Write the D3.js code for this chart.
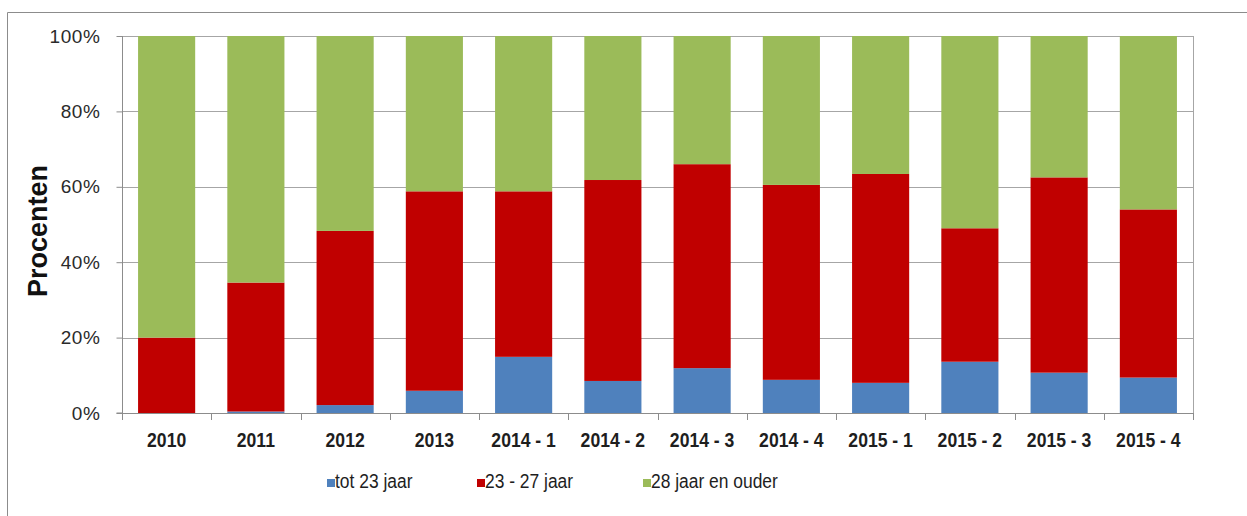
<!DOCTYPE html>
<html>
<head>
<meta charset="utf-8">
<script src="https://cdn.jsdelivr.net/npm/d3@7/dist/d3.min.js"></script>
<style>
    body { margin: 0; background: #fff; }
    svg { display: block; }
</style>
</head>
<body>
<div id="draw"></div>
<script>
//数据
var categories = ["2010", "2011", "2012", "2013", "2014 - 1", "2014 - 2", "2014 - 3", "2014 - 4",
    "2015 - 1", "2015 - 2", "2015 - 3", "2015 - 4"];
var tot23 = [0, 0.4, 2.1, 5.9, 14.9, 8.5, 11.9, 8.8, 8.0, 13.6, 10.7, 9.4];
var jaar23_27 = [20.0, 34.2, 46.2, 52.9, 43.9, 53.3, 54.1, 51.7, 55.4, 35.4, 51.8, 44.6];
var jaar28 = [80.0, 65.4, 51.7, 41.2, 41.2, 38.2, 34.0, 39.5, 36.6, 51.0, 37.5, 46.0];
var seriesNames = ["tot 23 jaar", "23 - 27 jaar", "28 jaar en ouder"];
var seriesColors = ["#4f81bd", "#c00000", "#9bbb59"];
var yTicks = [0, 20, 40, 60, 80, 100];

//高宽
var w = 1247;
var h = 516;
var plot = {left: 122, top: 36, right: 1193, bottom: 413};

var svg = d3.select("#draw")
    .append("svg")
    .attr("width", w)
    .attr("height", h);

//外框
svg.append("path")
    .attr("d", "M7.5," + (h + 5) + "V12.5H" + (w + 5))
    .attr("fill", "none")
    .attr("stroke", "#8c8c8c")
    .attr("stroke-width", 1);

var x = d3.scaleBand()
    .domain(categories)
    .range([plot.left, plot.right])
    .paddingInner(0.36)
    .paddingOuter(0.18);

var y = d3.scaleLinear()
    .domain([0, 100])
    .range([plot.bottom, plot.top]);

//网格线
svg.append("g")
    .selectAll("line")
    .data(yTicks.slice(1))
    .enter()
    .append("line")
    .attr("x1", plot.left)
    .attr("x2", plot.right)
    .attr("y1", function(d) { return Math.round(y(d)) + 0.5; })
    .attr("y2", function(d) { return Math.round(y(d)) + 0.5; })
    .attr("stroke", "#a6a6a6")
    .attr("stroke-width", 1);

//右边框
svg.append("line")
    .attr("x1", plot.right + 0.5)
    .attr("x2", plot.right + 0.5)
    .attr("y1", plot.top)
    .attr("y2", plot.bottom)
    .attr("stroke", "#a6a6a6");

//堆叠
var table = categories.map(function(c, i) {
    return {cat: c, s0: tot23[i], s1: jaar23_27[i], s2: jaar28[i]};
});
var stack = d3.stack().keys(["s0", "s1", "s2"]);
var layers = stack(table);

svg.append("g")
    .selectAll("g")
    .data(layers)
    .enter()
    .append("g")
    .attr("fill", function(d, i) { return seriesColors[i]; })
    .selectAll("rect")
    .data(function(d) { return d; })
    .enter()
    .append("rect")
    .attr("x", function(d) { return x(d.data.cat); })
    .attr("width", x.bandwidth())
    .attr("y", function(d) { return y(Math.min(d[1], 100)); })
    .attr("height", function(d) { return Math.max(0, y(d[0]) - y(Math.min(d[1], 100))); });

//Y轴
var yAxis = d3.axisLeft(y)
    .tickValues(yTicks)
    .tickSize(6)
    .tickPadding(16)
    .tickFormat(function(d) { return d + "%"; });

var gy = svg.append("g")
    .attr("transform", "translate(" + (plot.left + 0.5) + ",0)")
    .call(yAxis);
gy.select(".domain").attr("stroke", "#8c8c8c").attr("d", "M-6," + plot.bottom + "H0V" + plot.top);
gy.selectAll(".tick line").attr("stroke", "#8c8c8c");
gy.selectAll(".tick text")
    .attr("font-family", "Liberation Sans, Arial, sans-serif")
    .attr("font-size", "19px")
    .attr("letter-spacing", "0.6px")
    .attr("fill", "#2a2a2a");

//X轴
var bounds = d3.range(categories.length + 1);
var step = (plot.right - plot.left) / categories.length;
svg.append("g")
    .selectAll("line")
    .data(bounds)
    .enter()
    .append("line")
    .attr("x1", function(d) { return Math.round(plot.left + d * step) + 0.5; })
    .attr("x2", function(d) { return Math.round(plot.left + d * step) + 0.5; })
    .attr("y1", plot.bottom)
    .attr("y2", plot.bottom + 7)
    .attr("stroke", "#8c8c8c");
svg.append("line")
    .attr("x1", plot.left)
    .attr("x2", plot.right + 1)
    .attr("y1", plot.bottom + 0.5)
    .attr("y2", plot.bottom + 0.5)
    .attr("stroke", "#8c8c8c");

//窄体文字 (横向压缩)
svg.append("g")
    .selectAll("text")
    .data(categories)
    .enter()
    .append("text")
    .text(function(d) { return d; })
    .attr("transform", function(d) {
        return "translate(" + (x(d) + x.bandwidth() / 2) + ",447) scale(0.88,1)";
    })
    .attr("text-anchor", "middle")
    .attr("font-family", "Liberation Sans, Arial, sans-serif")
    .attr("font-weight", "bold")
    .attr("font-size", "20px")
    .attr("fill", "#1e1e1e");

//Y轴标题
svg.append("text")
    .text("Procenten")
    .attr("transform", "translate(47,231) rotate(-90)")
    .attr("text-anchor", "middle")
    .attr("font-family", "Liberation Sans, Arial, sans-serif")
    .attr("font-weight", "bold")
    .attr("font-size", "27px")
    .attr("fill", "#111");

//图例
var legendX = [327, 477, 643];
var legend = svg.append("g")
    .selectAll("g")
    .data(seriesNames)
    .enter()
    .append("g")
    .attr("transform", function(d, i) { return "translate(" + legendX[i] + ",479)"; });
legend.append("rect")
    .attr("width", 8)
    .attr("height", 8)
    .attr("fill", function(d, i) { return seriesColors[i]; });
legend.append("text")
    .text(function(d) { return d; })
    .attr("transform", "translate(8,9) scale(0.83,1)")
    .attr("font-family", "Liberation Sans, Arial, sans-serif")
    .attr("font-size", "21px")
    .attr("fill", "#1e1e1e");
</script>
</body>
</html>
